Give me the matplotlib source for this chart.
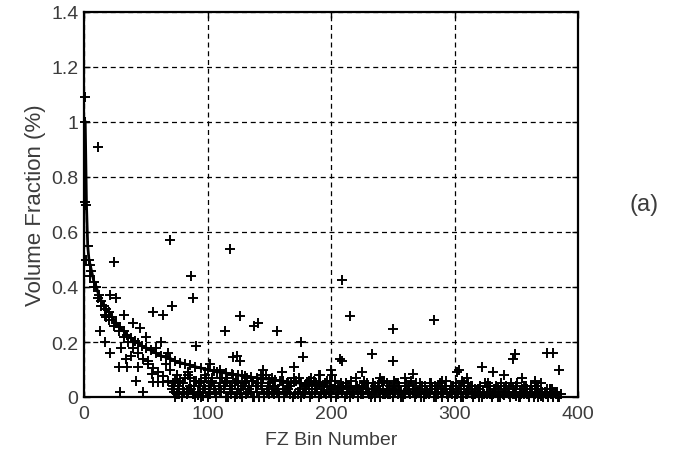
import matplotlib
matplotlib.use("Agg")
import matplotlib.pyplot as plt
import numpy as np

# ---------------- data ----------------
# smooth sorted series (reference sample)
xa = [1, 2, 3, 4, 5, 6, 8, 10, 12, 14, 16, 18, 20, 23, 26, 29, 32, 35, 38, 41,
      44, 47, 50, 54, 58, 62, 66, 70, 74, 78, 82, 86, 90, 95, 100, 105, 110, 115,
      120, 125, 130, 135, 140, 145, 150, 155, 160, 165, 170, 175, 180, 190, 200,
      210, 220, 230, 240, 250, 260, 270, 280, 290, 300, 310, 320, 330, 340, 350,
      360, 370, 380]
ya = [1.0, 0.70, 0.55, 0.50, 0.48, 0.46, 0.42, 0.40, 0.37, 0.35, 0.33, 0.32, 0.31,
      0.29, 0.27, 0.255, 0.24, 0.225, 0.215, 0.205, 0.195, 0.185, 0.18, 0.17, 0.16,
      0.15, 0.145, 0.14, 0.13, 0.125, 0.12, 0.115, 0.11, 0.105, 0.10, 0.095, 0.09,
      0.087, 0.083, 0.08, 0.076, 0.072, 0.07, 0.067, 0.064, 0.061, 0.058, 0.056,
      0.053, 0.05, 0.048, 0.044, 0.04, 0.036, 0.033, 0.03, 0.027, 0.024, 0.021,
      0.019, 0.017, 0.015, 0.013, 0.011, 0.009, 0.008, 0.006, 0.005, 0.004, 0.003,
      0.002]

# second, faster decaying series
xb = [2, 5, 8, 11, 14, 17, 20, 24, 28, 32, 36, 40, 44, 48, 52, 56, 60, 64, 68,
      72, 76, 80, 84, 88, 92, 96]
yb = [0.50, 0.44, 0.40, 0.36, 0.33, 0.30, 0.28, 0.26, 0.24, 0.22, 0.20, 0.18,
      0.16, 0.14, 0.12, 0.105, 0.09, 0.075, 0.06, 0.05, 0.04, 0.03, 0.02, 0.012,
      0.006, 0.002]

# scattered points
xc = [1, 11, 1, 24, 70, 118, 87, 88, 209, 71, 56, 64, 32, 26, 21, 21, 29, 48,
      28, 35, 44, 56, 60, 64, 126, 138, 141, 114, 156, 215, 250, 91, 124, 126,
      176, 177, 209, 233, 250, 283, 347, 349, 375, 380, 385, 322, 302, 304, 331,
      266, 121, 207, 13, 17, 40, 45, 50, 38, 52, 58, 62, 66, 70, 75, 18, 30, 34,
      42, 55, 68, 80, 84, 98, 102, 110, 145, 160, 170, 190, 200, 225, 240, 260,
      290, 310, 340, 355, 365, 370]
yc = [1.09, 0.91, 0.71, 0.49, 0.57, 0.54, 0.44, 0.36, 0.425, 0.33, 0.31, 0.30,
      0.30, 0.36, 0.37, 0.16, 0.02, 0.02, 0.11, 0.11, 0.11, 0.055, 0.055, 0.055,
      0.295, 0.26, 0.27, 0.24, 0.24, 0.295, 0.247, 0.185, 0.15, 0.13, 0.20, 0.145,
      0.13, 0.155, 0.13, 0.28, 0.14, 0.155, 0.16, 0.16, 0.10, 0.11, 0.09, 0.10,
      0.09, 0.085, 0.145, 0.14, 0.24, 0.20, 0.27, 0.25, 0.22, 0.15, 0.13, 0.18,
      0.20, 0.12, 0.10, 0.08, 0.29, 0.18, 0.14, 0.06, 0.085, 0.16, 0.05, 0.09,
      0.07, 0.12, 0.10, 0.10, 0.09, 0.11, 0.08, 0.10, 0.09, 0.07, 0.07, 0.06,
      0.07, 0.08, 0.07, 0.06, 0.05]

# dense low-value band (four samples)
xd = list(range(72, 385, 3))
yd = [0.04, 0.01, 0.06, 0.02, 0.08, 0.03, 0.00, 0.05, 0.02, 0.07,
      0.01, 0.04, 0.09, 0.02, 0.05, 0.00, 0.03, 0.06, 0.01, 0.04,
      0.07, 0.02, 0.00, 0.05, 0.03, 0.08, 0.01, 0.04, 0.02, 0.06,
      0.00, 0.03, 0.05, 0.01, 0.07, 0.02, 0.04, 0.00, 0.06, 0.03,
      0.01, 0.05, 0.02, 0.08, 0.00, 0.03, 0.04, 0.01, 0.06, 0.02,
      0.00, 0.04, 0.03, 0.01, 0.05, 0.02, 0.00, 0.06, 0.01, 0.03,
      0.02, 0.04, 0.00, 0.05, 0.01, 0.03, 0.02, 0.00, 0.04, 0.01,
      0.03, 0.00, 0.05, 0.02, 0.01, 0.04, 0.00, 0.02, 0.06, 0.01,
      0.03, 0.00, 0.02, 0.04, 0.01, 0.05, 0.00, 0.03, 0.02, 0.01,
      0.04, 0.00, 0.02, 0.05, 0.01, 0.03, 0.00, 0.02, 0.04, 0.01,
      0.00, 0.03, 0.01, 0.02, 0.00]
xe = list(range(73, 386, 3))
ye = [0.02, 0.05, 0.00, 0.07, 0.03, 0.01, 0.06, 0.02, 0.04, 0.00,
      0.05, 0.02, 0.03, 0.07, 0.00, 0.04, 0.08, 0.01, 0.03, 0.05,
      0.02, 0.06, 0.04, 0.00, 0.07, 0.02, 0.05, 0.01, 0.03, 0.09,
      0.02, 0.04, 0.00, 0.06, 0.03, 0.01, 0.05, 0.07, 0.02, 0.00,
      0.04, 0.01, 0.06, 0.03, 0.02, 0.05, 0.00, 0.04, 0.02, 0.07,
      0.03, 0.01, 0.05, 0.00, 0.02, 0.04, 0.06, 0.01, 0.03, 0.00,
      0.05, 0.02, 0.01, 0.03, 0.06, 0.00, 0.02, 0.04, 0.01, 0.05,
      0.00, 0.03, 0.02, 0.04, 0.00, 0.01, 0.05, 0.03, 0.00, 0.02,
      0.04, 0.01, 0.03, 0.00, 0.05, 0.02, 0.01, 0.04, 0.00, 0.03,
      0.02, 0.05, 0.01, 0.00, 0.03, 0.04, 0.02, 0.00, 0.03, 0.01,
      0.02, 0.00, 0.03, 0.01, 0.00]
xf = list(range(74, 387, 3))
yf = [0.00, 0.03, 0.05, 0.01, 0.04, 0.06, 0.02, 0.00, 0.08, 0.03,
      0.06, 0.00, 0.02, 0.04, 0.07, 0.01, 0.05, 0.03, 0.00, 0.06,
      0.03, 0.00, 0.05, 0.08, 0.01, 0.04, 0.02, 0.06, 0.00, 0.03,
      0.05, 0.01, 0.07, 0.02, 0.00, 0.04, 0.03, 0.01, 0.05, 0.08,
      0.02, 0.06, 0.00, 0.04, 0.01, 0.03, 0.05, 0.00, 0.02, 0.04,
      0.01, 0.06, 0.02, 0.03, 0.00, 0.05, 0.01, 0.02, 0.04, 0.06,
      0.01, 0.00, 0.04, 0.02, 0.03, 0.01, 0.05, 0.00, 0.02, 0.03,
      0.04, 0.01, 0.00, 0.06, 0.02, 0.03, 0.01, 0.00, 0.04, 0.05,
      0.01, 0.03, 0.00, 0.02, 0.01, 0.04, 0.03, 0.00, 0.05, 0.02,
      0.01, 0.03, 0.02, 0.00, 0.04, 0.01, 0.03, 0.05, 0.00, 0.02,
      0.01, 0.03, 0.00, 0.02, 0.01]
xg = list(range(71, 384, 3))
yg = [0.03, 0.06, 0.01, 0.05, 0.02, 0.07, 0.04, 0.01, 0.06, 0.03,
      0.02, 0.07, 0.01, 0.05, 0.03, 0.06, 0.02, 0.00, 0.05, 0.08,
      0.01, 0.04, 0.06, 0.02, 0.05, 0.00, 0.03, 0.07, 0.04, 0.01,
      0.06, 0.02, 0.04, 0.07, 0.01, 0.05, 0.02, 0.06, 0.03, 0.04,
      0.05, 0.02, 0.04, 0.01, 0.06, 0.03, 0.02, 0.05, 0.03, 0.01,
      0.04, 0.02, 0.05, 0.03, 0.01, 0.04, 0.02, 0.03, 0.05, 0.01,
      0.03, 0.05, 0.02, 0.01, 0.04, 0.02, 0.05, 0.03, 0.01, 0.02,
      0.05, 0.02, 0.04, 0.01, 0.03, 0.02, 0.04, 0.01, 0.03, 0.05,
      0.02, 0.04, 0.01, 0.03, 0.02, 0.04, 0.01, 0.02, 0.03, 0.04,
      0.02, 0.03, 0.01, 0.04, 0.02, 0.01, 0.03, 0.04, 0.01, 0.03,
      0.02, 0.01, 0.03, 0.02, 0.01]

xticks = [0, 100, 200, 300, 400]
yticks = [0, 0.2, 0.4, 0.6, 0.8, 1.0, 1.2, 1.4]
ytick_labels = ["0", "0.2", "0.4", "0.6", "0.8", "1", "1.2", "1.4"]
xlabel = "FZ Bin Number"
ylabel = "Volume Fraction (%)"
panel = "(a)"

# ---------------- plot ----------------
plt.rcParams['font.family'] = ['Liberation Sans', 'DejaVu Sans']
txt = '#3c3c3c'
fig = plt.figure(figsize=(6.91, 4.56), dpi=100)
ax = fig.add_axes([84/691, 1-398/456, (578-84)/691, (398-13)/456])

mk = dict(marker='+', color='black', markersize=7.5, markeredgewidth=1.4,
          linestyle='none', clip_on=False)
for xs, ys in [(xd, yd), (xe, ye), (xf, yf), (xg, yg), (xc, yc), (xb, yb)]:
    ax.plot(xs, ys, **mk)
ax.plot(xa, ya, color='black', linewidth=2.0, marker='+', markersize=7.5,
        markeredgewidth=1.4, clip_on=False)

ax.set_xlim(0, 400)
ax.set_ylim(0, 1.4)
ax.set_xticks(xticks)
ax.set_yticks(yticks)
ax.set_yticklabels(ytick_labels)
ax.tick_params(direction='in', length=4, width=1, colors='black',
               labelcolor=txt, labelsize=14, pad=4, top=True, right=True)
ax.tick_params(axis='x', pad=6)
ax.grid(True, color='black', linestyle=(0, (4, 3)), linewidth=0.9)
for s in ax.spines.values():
    s.set_linewidth(1.6)
    s.set_color('black')
ax.set_xlabel(xlabel, fontsize=14, color=txt, labelpad=6)
ax.set_ylabel(ylabel, fontsize=16, color=txt, labelpad=4)
fig.text(644/691, 1-205/456, panel, fontsize=17, color=txt,
         ha='center', va='center')

fig.savefig("out.png", dpi=100)
